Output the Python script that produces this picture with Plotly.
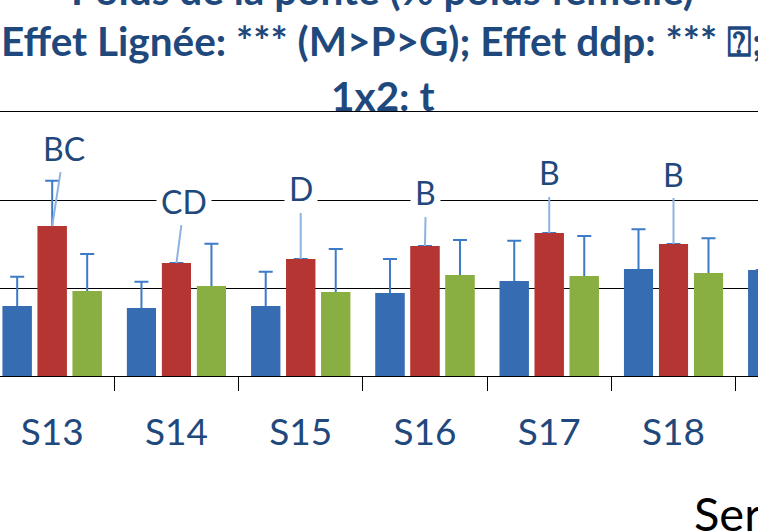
import plotly.graph_objects as go

# ---- data ----
categories = ["S13", "S14", "S15", "S16", "S17", "S18", "S19"]
blue_vals = [3.98, 3.86, 3.98, 4.72, 5.40, 6.08, 6.02]
blue_err = [1.66, 1.49, 1.95, 1.93, 2.29, 2.26, None]
red_vals = [8.52, 6.42, 6.65, 7.39, 8.13, 7.50, None]
red_err = [2.57, None, None, None, None, None, None]
green_vals = [4.83, 5.11, 4.77, 5.74, 5.68, 5.85, None]
green_err = [2.10, 2.40, 2.44, 1.99, 2.27, 1.97, None]
red_letters = ["BC", "CD", "D", "B", "B", "B", None]

title_lines = [
    "Poids de la ponte (% poids femelle)",
    "Effet Lignée: *** (M>P>G); Effet ddp: *** ⍰;",
    "1x2: t",
]
legend_text = "Series1"

# ---- styles ----
TXT_BLUE = "#1F497D"
ERR_COLOR = "#3C7BC8"
label_offsets = [(12, -78), (8, -62), (0, -70), (1, -53), (0, -60), (0, -70), (0, 0)]
HIDE = 0.25  # lower cap of the one-sided error bars is pushed inside the bar and covered

W, H = 758, 531
TOP, BOT = 112, 376

series = [
    ("M", blue_vals, blue_err, "#366DB2"),
    ("P", red_vals, red_err, "#B43532"),
    ("G", green_vals, green_err, "#89AE42"),
]

fig = go.Figure()
for name, vals, errs, color in series:
    minus = [HIDE if e is not None else None for e in errs]
    fig.add_trace(go.Bar(
        x=categories, y=vals, name=name, offsetgroup=name,
        marker=dict(color=color, line=dict(width=0)),
        error_y=dict(type="data", array=errs, symmetric=False,
                     arrayminus=minus,
                     color=ERR_COLOR, thickness=2, width=7),
        showlegend=False,
    ))
# same bars again on top (same slots) to hide the lower caps
for name, vals, errs, color in series:
    fig.add_trace(go.Bar(
        x=categories, y=vals, name=name, offsetgroup=name,
        marker=dict(color=color, line=dict(width=0)),
        showlegend=False, hoverinfo="skip",
    ))

annotations = []
for cat, v, lab, (ax, ay) in zip(categories, red_vals, red_letters, label_offsets):
    if lab is None or v is None:
        continue
    annotations.append(dict(
        x=cat, y=v, xref="x", yref="y", text=lab,
        showarrow=True, arrowhead=0, arrowwidth=2, arrowcolor="#8DB3E2",
        ax=ax, ay=ay, bgcolor="white", borderpad=4,
        font=dict(family="Lato", size=32, color=TXT_BLUE),
    ))

def py2paper(py):
    return (BOT - py) / (BOT - TOP)

title_py = [-10, 40, 95.5]
for line, py in zip(title_lines, title_py):
    annotations.append(dict(
        x=382 / W, y=py2paper(py), xref="paper", yref="paper",
        text="<b>%s</b>" % line, showarrow=False,
        xanchor="center", yanchor="middle",
        font=dict(family="Lato", size=40.5, color=TXT_BLUE),
    ))

annotations.append(dict(
    x=692 / W, y=py2paper(513), xref="paper", yref="paper",
    text=legend_text, showarrow=False, xanchor="left", yanchor="middle",
    font=dict(family="Lato", size=47, color="black"),
))

fig.update_layout(
    width=W, height=H,
    margin=dict(l=0, r=0, t=TOP, b=H - BOT, pad=0),
    paper_bgcolor="white", plot_bgcolor="white",
    barmode="group", bargap=0.155, bargroupgap=0.17,
    annotations=annotations,
    xaxis=dict(
        type="category", range=[-0.42, 5.68],
        showline=True, linecolor="black", linewidth=1, mirror=True,
        ticks="outside", tickson="boundaries", ticklen=14,
        tickcolor="black", tickwidth=1,
        showgrid=False,
        tickfont=dict(family="Lato", size=37, color=TXT_BLUE),
        ticklabelstandoff=24,
    ),
    yaxis=dict(
        range=[0, 15], dtick=5, showgrid=True, gridcolor="black",
        gridwidth=1, showticklabels=False, zeroline=False, showline=False,
        ticks="",
    ),
)

fig.write_html(
    "out.html",
    config={"displayModeBar": False},
    post_script="document.body.style.margin='0';document.body.style.overflow='hidden';",
)
